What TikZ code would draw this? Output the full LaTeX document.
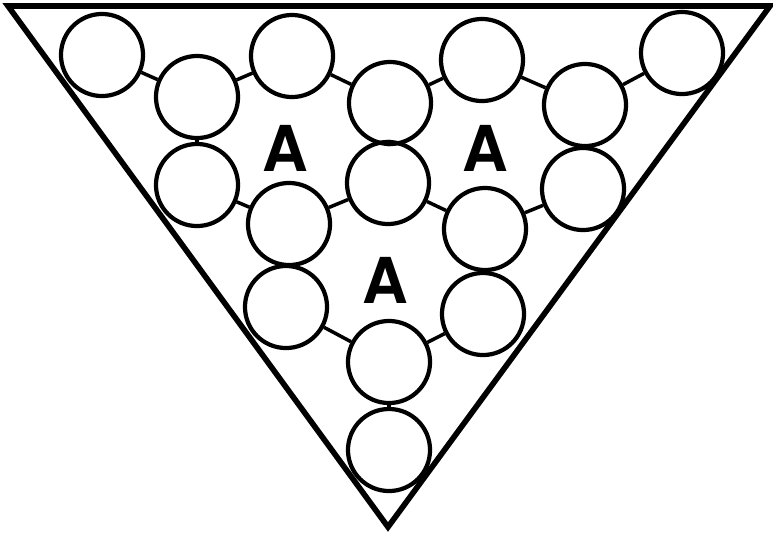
\documentclass[tikz,border=0pt]{standalone}
\usepackage{fontspec}
\setmainfont{TeX Gyre Heros}
\tikzset{
  disc/.style ={circle, draw=black, line width=1.2pt, minimum size=0.82cm,
                inner sep=0pt},
  tag/.style  ={font=\fontsize{18}{18}\selectfont\bfseries},
  link/.style ={line width=1pt},
  frame/.style={line width=1.6pt, line join=miter}
}
\begin{document}
\begin{tikzpicture}[x=0.01cm, y=-0.01cm]
    \useasboundingbox (0,0) rectangle (773,536);
    % outer triangle
    \coordinate (tl) at (8,6);
    \coordinate (tr) at (770,6);
    \coordinate (bot) at (388,527);
    \draw[frame] (tl) -- (tr) -- (bot) -- cycle;
    % top row
    \node[disc] (c1) at (102,55) {};
    \node[disc] (c2) at (197,97) {};
    \node[disc] (c3) at (292,56) {};
    \node[disc] (c4) at (390,103) {};
    \node[disc] (c5) at (482,60) {};
    \node[disc] (c6) at (585,105) {};
    \node[disc] (c7) at (682,53) {};
    % middle row
    \node[disc] (d1) at (197,185) {};
    \node[disc] (d2) at (289,224) {};
    \node[disc] (d3) at (388,183) {};
    \node[disc] (d4) at (485,229) {};
    \node[disc] (d5) at (583,189) {};
    % lower rows
    \node[disc] (e1) at (286,307) {};
    \node[disc] (e2) at (389,362) {};
    \node[disc] (e3) at (483,314) {};
    \node[disc] (f1) at (389,450) {};
    % labels
    \node[tag] (a1) at (285,148) {A};
    \node[tag] (a2) at (485,148) {A};
    \node[tag] (a3) at (385,280) {A};
    % links
    \draw[link] (c1) -- (c2);
    \draw[link] (c2) -- (c3);
    \draw[link] (c3) -- (c4);
    \draw[link] (c4) -- (c5);
    \draw[link] (c5) -- (c6);
    \draw[link] (c6) -- (c7);
    \draw[link] (d1) -- (d2);
    \draw[link] (d2) -- (d3);
    \draw[link] (d3) -- (d4);
    \draw[link] (d4) -- (d5);
    \draw[link] (e1) -- (e2);
    \draw[link] (e2) -- (e3);
    \draw[link] (c2) -- (d1);
    \draw[link] (c4) -- (d3);
    \draw[link] (c6) -- (d5);
    \draw[link] (d2) -- (e1);
    \draw[link] (d4) -- (e3);
    \draw[link] (e2) -- (f1);
\end{tikzpicture}
\end{document}
